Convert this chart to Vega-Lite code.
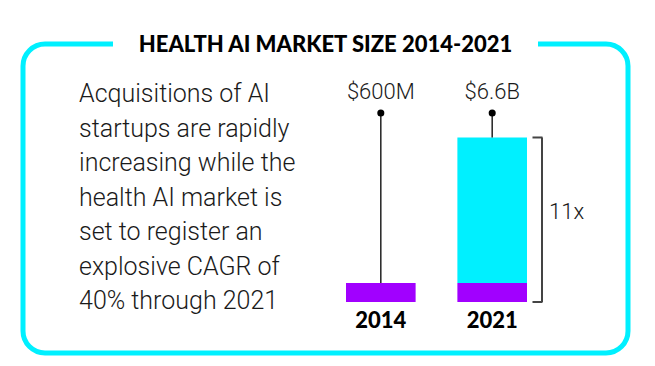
{
  "$schema": "https://vega.github.io/schema/vega-lite/v6.json",
  "width": 605,
  "height": 309,
  "autosize": {"type": "none"},
  "padding": {"left": 23, "top": 44, "right": 27, "bottom": 13},
  "background": "white",
  "config": {
    "view": {"stroke": "#00F0FF", "strokeWidth": 5, "cornerRadius": 22},
    "font": "Roboto"
  },
  "datasets": {
    "heading": [{"heading": "HEALTH AI MARKET SIZE 2014-2021"}],
    "blurb": [{"blurb": "Acquisitions of AI\nstartups are rapidly\nincreasing while the\nhealth AI market is\nset to register an\nexplosive CAGR of\n40% through 2021"}],
    "segments": [
      {"year": "2014", "part": "2014 market", "lo": 0, "hi": 600},
      {"year": "2021", "part": "2014 market", "lo": 0, "hi": 600},
      {"year": "2021", "part": "Growth 2014-2021", "lo": 600, "hi": 6600}
    ],
    "totals": [
      {"year": "2014", "total": 600, "label": "$600M"},
      {"year": "2021", "total": 6600, "label": "$6.6B"}
    ],
    "growth": [{"year": "2021", "lo": 0, "hi": 6600, "label": "11x"}]
  },
  "layer": [
    {
      "data": {"name": "heading"},
      "encoding": {
        "x": {"field": "heading", "type": "nominal", "scale": {"type": "point", "align": 0.5}, "axis": null},
        "y": {"field": "heading", "type": "nominal", "scale": {"type": "point", "align": 0}, "axis": null}
      },
      "layer": [
        {"mark": {"type": "rect", "fill": "white", "width": 425, "height": 12}},
        {"mark": {"type": "text", "font": "Lato", "fontSize": 22, "fontWeight": 900, "color": "black", "dy": 8, "baseline": "alphabetic"}, "encoding": {"text": {"field": "heading"}}}
      ]
    },
    {
      "data": {"name": "blurb"},
      "mark": {"type": "text", "align": "left", "baseline": "alphabetic", "lineBreak": "\n", "lineHeight": 34.5, "fontSize": 25, "fontWeight": 300, "color": "#1a1a1a"},
      "encoding": {
        "x": {"field": "blurb", "type": "nominal", "scale": {"type": "point", "align": 0.0926}, "axis": null},
        "y": {"field": "blurb", "type": "nominal", "scale": {"type": "point", "align": 0.1893}, "axis": null},
        "text": {"field": "blurb"}
      }
    },
    {
      "layer": [
        {
          "data": {"name": "segments"},
          "mark": {"type": "bar"},
          "encoding": {
            "x": {"field": "year", "type": "nominal", "scale": {"domain": ["2014", "2021"], "range": [323, 504], "paddingInner": 0.375, "paddingOuter": 0}, "axis": null},
            "y": {"field": "lo", "type": "quantitative", "scale": {"type": "pow", "exponent": 0.9, "domain": [0, 7700], "range": [258, 69], "nice": false, "zero": false}, "axis": null},
            "y2": {"field": "hi"},
            "color": {"field": "part", "type": "nominal", "scale": {"domain": ["2014 market", "Growth 2014-2021"], "range": ["#A100FF", "#00F0FF"]}, "legend": null}
          }
        },
        {
          "data": {"name": "totals"},
          "encoding": {"x": {"field": "year", "type": "nominal", "axis": null}},
          "layer": [
            {"mark": {"type": "rule", "color": "#222222", "strokeWidth": 1.5}, "encoding": {"y": {"field": "total", "type": "quantitative", "axis": null}, "y2": {"datum": 7700}}},
            {"mark": {"type": "point", "filled": true, "color": "black", "size": 50, "opacity": 1}, "encoding": {"y": {"datum": 7700, "type": "quantitative", "axis": null}}},
            {"mark": {"type": "text", "fontSize": 22, "fontWeight": 300, "color": "#1a1a1a", "dy": -14, "baseline": "alphabetic"}, "encoding": {"y": {"datum": 7700, "type": "quantitative", "axis": null}, "text": {"field": "label"}}},
            {"mark": {"type": "text", "font": "Lato", "fontSize": 22, "fontWeight": 900, "color": "black", "dy": 26, "baseline": "alphabetic"}, "encoding": {"y": {"datum": 0, "type": "quantitative", "axis": null}, "text": {"field": "year"}}}
          ]
        },
        {
          "data": {"name": "growth"},
          "layer": [
            {"mark": {"type": "rule", "color": "#444444", "strokeWidth": 2, "xOffset": 15}, "encoding": {"x": {"field": "year", "type": "nominal", "bandPosition": 1, "axis": null}, "y": {"field": "lo", "type": "quantitative", "axis": null}, "y2": {"field": "hi"}}},
            {"mark": {"type": "tick", "orient": "horizontal", "color": "#444444", "size": 10, "thickness": 2, "opacity": 1, "xOffset": 45.3}, "encoding": {"x": {"field": "year", "type": "nominal", "axis": null}, "y": {"field": "lo", "type": "quantitative", "axis": null}}},
            {"mark": {"type": "tick", "orient": "horizontal", "color": "#444444", "size": 10, "thickness": 2, "opacity": 1, "xOffset": 45.3}, "encoding": {"x": {"field": "year", "type": "nominal", "axis": null}, "y": {"field": "hi", "type": "quantitative", "axis": null}}},
            {"mark": {"type": "text", "align": "left", "fontSize": 22, "fontWeight": 300, "color": "#1a1a1a", "dx": 22, "dy": -83, "baseline": "alphabetic"}, "encoding": {"x": {"field": "year", "type": "nominal", "bandPosition": 1, "axis": null}, "y": {"field": "lo", "type": "quantitative", "axis": null}, "text": {"field": "label"}}}
          ]
        }
      ]
    }
  ],
  "resolve": {"scale": {"x": "independent", "y": "independent"}}
}
